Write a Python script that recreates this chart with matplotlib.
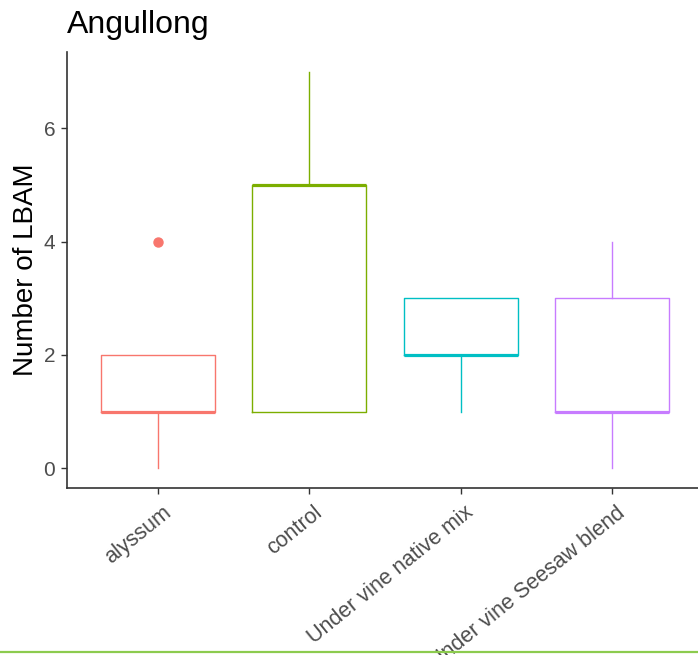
import matplotlib
matplotlib.use("Agg")
import matplotlib.pyplot as plt
from matplotlib.lines import Line2D
from matplotlib.transforms import ScaledTranslation

plt.rcParams["font.family"] = ["Liberation Sans", "DejaVu Sans"]

# Box statistics per treatment
treatments = ["alyssum", "control", "Under vine native mix", "Under vine Seesaw blend"]
whisker_low = [0, 1, 1, 0]
q1 = [1, 1, 2, 1]
median = [1, 5, 2, 1]
q3 = [2, 5, 3, 3]
whisker_high = [2, 7, 3, 4]
outliers = [[4], [], [], []]
colors = ["#F8766D", "#7CAE00", "#00BFC4", "#C77CFF"]
y_ticks = [0, 2, 4, 6]

W, H = 698, 655
fig = plt.figure(figsize=(W / 100, H / 100), dpi=100)
ax = fig.add_axes([67 / W, 1 - 488 / H, (703 - 67) / W, (488 - 52) / H])

for i, name in enumerate(treatments):
    stats = [{
        "whislo": whisker_low[i], "q1": q1[i], "med": median[i],
        "q3": q3[i], "whishi": whisker_high[i], "fliers": outliers[i],
        "label": name,
    }]
    c = colors[i]
    ax.bxp(stats, positions=[i + 1], widths=0.75, showcaps=False,
           boxprops=dict(color=c, linewidth=1.0),
           whiskerprops=dict(color=c, linewidth=1.0),
           medianprops=dict(color=c, linewidth=2.3, solid_capstyle="butt"),
           flierprops=dict(marker="o", markerfacecolor=c, markeredgecolor=c,
                           markersize=6.5, linestyle="none"))

ax.set_xlim(0.4, 4.6)
ax.set_ylim(-0.35, 7.35)
ax.set_xticks(range(1, len(treatments) + 1))
ax.set_xticklabels(treatments, rotation=39, ha="right", va="top",
                   rotation_mode="anchor", fontsize=15.5, color="#4D4D4D")
ax.set_yticks(y_ticks)
ax.set_yticklabels([str(v) for v in y_ticks], fontsize=15, color="#4D4D4D")
ax.tick_params(axis="both", length=4.5, width=1.0, color="#333333", pad=4)
ax.tick_params(axis="x", pad=5)

# small rightward nudge of the slanted category labels
shift = ScaledTranslation(4 / 100, -1 / 100, fig.dpi_scale_trans)
for lbl in ax.get_xticklabels():
    lbl.set_transform(lbl.get_transform() + shift)

for side in ("top", "right"):
    ax.spines[side].set_visible(False)
for side in ("left", "bottom"):
    ax.spines[side].set_color("#333333")
    ax.spines[side].set_linewidth(1.2)

ax.set_ylabel("Number of LBAM", fontsize=20, color="black", labelpad=3)
fig.text(67 / W, 1 - 33 / H, "Angullong", fontsize=23, color="black",
         ha="left", va="baseline")

# Thin green rule along the bottom edge
fig.add_artist(Line2D([0, 1], [1 - 652 / H, 1 - 652 / H], transform=fig.transFigure,
                      color="#8CCB4E", linewidth=1.6))

fig.savefig("out.png", dpi=100)
